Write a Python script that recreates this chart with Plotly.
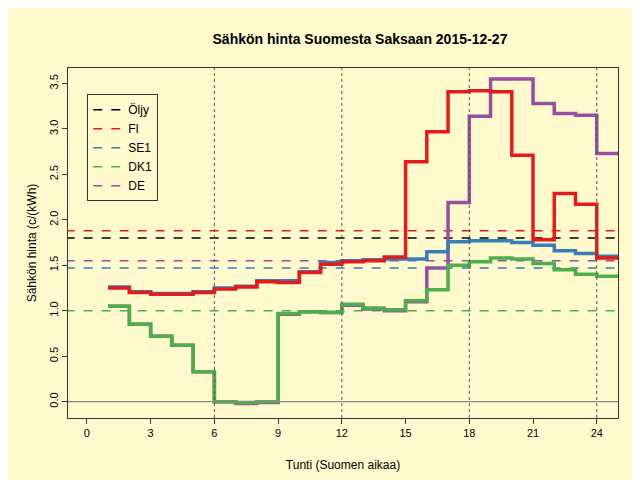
import plotly.graph_objects as go

hours = list(range(1, 26))
fi = [1.25, 1.20, 1.18, 1.18, 1.20, 1.24, 1.26, 1.32, 1.31, 1.42, 1.51, 1.54,
      1.55, 1.59, 2.64, 2.97, 3.41, 3.42, 3.41, 2.71, 1.78, 2.29, 2.17, 1.58]
se1 = [1.26, 1.21, 1.19, 1.19, 1.21, 1.25, 1.27, 1.33, 1.33, 1.43, 1.53, 1.55,
       1.56, 1.57, 1.57, 1.65, 1.76, 1.77, 1.77, 1.75, 1.72, 1.66, 1.63, 1.60]
dk1 = [1.05, 0.85, 0.72, 0.62, 0.33, 0.00, -0.01, 0.00, 0.97, 0.99, 0.98, 1.07,
       1.03, 1.01, 1.11, 1.23, 1.50, 1.54, 1.58, 1.57, 1.52, 1.45, 1.40, 1.38]
de = [1.05, 0.85, 0.72, 0.62, 0.33, 0.00, -0.02, -0.01, 0.96, 0.99, 0.98, 1.06,
      1.02, 1.00, 1.10, 1.47, 2.19, 3.14, 3.55, 3.55, 3.28, 3.17, 3.15, 2.73]
averages = {"Öljy": 1.80, "FI": 1.88, "SE1": 1.47, "DK1": 1.00, "DE": 1.55}
colors = {"Öljy": "black", "FI": "#E41A1C", "SE1": "#377EB8", "DK1": "#4DAF4A", "DE": "#984EA3"}

bg = "#FFFACD"
fig = go.Figure()

# average price dashed lines (these make the legend)
for name, val in averages.items():
    fig.add_trace(go.Scatter(x=[-1, 26], y=[val, val], mode="lines", name=name,
                             line=dict(color=colors[name], dash="dash", width=1.3)))

for name, vals in [("DE", de), ("DK1", dk1), ("SE1", se1), ("FI", fi)]:
    fig.add_trace(go.Scatter(x=hours, y=vals + [vals[-1]], mode="lines", showlegend=False,
                             line=dict(color=colors[name], width=3.5, shape="hv")))

fig.add_hline(y=0, line=dict(color="#888888", width=1.3))
for v in [6, 12, 18, 24]:
    fig.add_vline(x=v, line=dict(color="#555555", width=1, dash="dot"))

axis = dict(showgrid=False, zeroline=False, showline=True, mirror=True, linecolor="#333333",
            ticks="outside", ticklen=5, tickcolor="#333333", automargin=False,
            tickfont=dict(size=11, color="black"))
fig.update_layout(
    width=640, height=480, paper_bgcolor=bg, plot_bgcolor=bg,
    font=dict(family="Liberation Sans", size=12, color="black"),
    margin=dict(l=60, r=30, t=60, b=70),
    title=dict(text="<b>Sähkön hinta Suomesta Saksaan 2015-12-27</b>", x=0.55, y=0.945,
               xanchor="center", font=dict(size=14)),
    xaxis=dict(axis, range=[-0.89, 25], tickvals=list(range(0, 25, 3)),
               title=dict(text="Tunti (Suomen aikaa)", font=dict(size=12), standoff=22)),
    yaxis=dict(axis, range=[-0.18, 3.67], tickvals=[0, 0.5, 1, 1.5, 2, 2.5, 3, 3.5],
               ticktext=["0.0", "0.5", "1.0", "1.5", "2.0", "2.5", "3.0", "3.5"], tickangle=-90,
               title=dict(text="Sähkön hinta (c/(kWh)", font=dict(size=12), standoff=8)),
    legend=dict(x=0.035, y=0.925, xanchor="left", yanchor="top", bgcolor=bg,
                bordercolor="#333333", borderwidth=1, font=dict(size=12)),
)
fig.write_html("out.html")
